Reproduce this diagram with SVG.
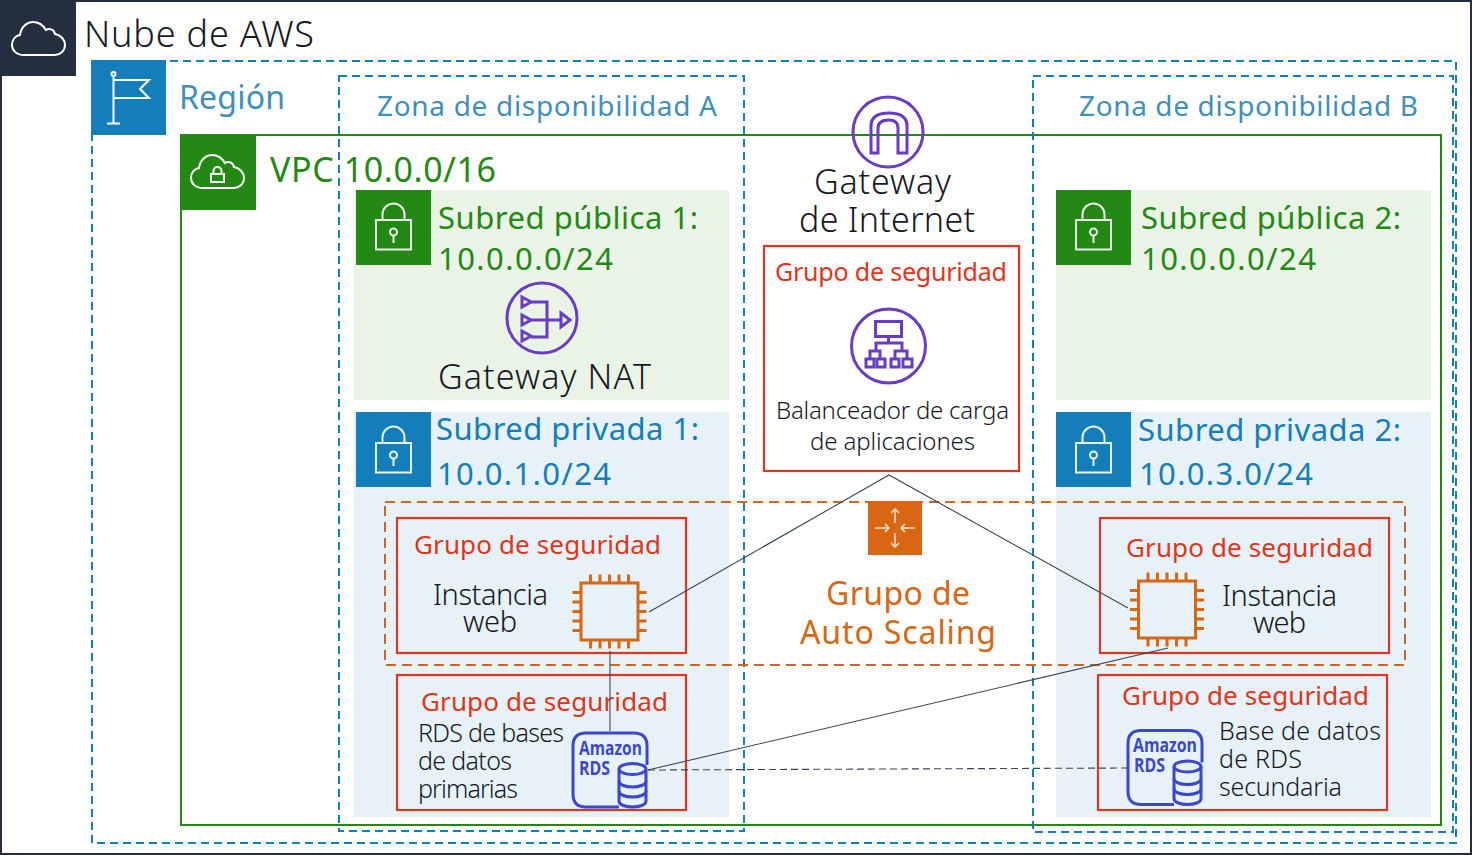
<svg xmlns="http://www.w3.org/2000/svg" xmlns:xlink="http://www.w3.org/1999/xlink" width="1472" height="855" viewBox="0 0 1472 855">
<style>
text{font-family:"Noto Sans","Open Sans","Liberation Sans",sans-serif;}
.blk{fill:#16191f;font-weight:300;}
.reg{fill:#3f8fbc;font-size:28px;}
.grn{fill:#248814;}
.blu{fill:#147eba;}
.red{fill:#e0351b;font-size:26px;}
.org{fill:#d86613;font-size:32px;}
.rdst{fill:#3b48cc;font-weight:700;font-family:"Open Sans","Liberation Sans",sans-serif;font-size:19px;}
.sg{fill:none;stroke:#dd3522;stroke-width:2.2;}
.az{fill:none;stroke:#147eba;stroke-width:2;stroke-dasharray:8 5;}
.wh{fill:none;stroke:#fff;stroke-width:2;}
.wh2{fill:none;stroke:#e8f2ea;stroke-width:2;}
.pur{fill:none;stroke:#693cc5;stroke-width:3;}
.chip{fill:none;stroke:#d86613;stroke-width:3;}
.rds{fill:none;stroke:#3b48cc;stroke-width:3;}
.conn{fill:none;stroke:#3a4656;stroke-width:1.1;}
</style>
<defs>
<g id="lock">
<rect x="20" y="30" width="35" height="29.5" class="wh2"/>
<path d="M26.500 30V24.500A11 11 0 0 1 48.500 24.500V30" class="wh2"/>
<circle cx="37.500" cy="42" r="3.500" class="wh2"/>
<path d="M37.500 45.500V53" class="wh2"/>
</g>
<path id="cloud" d="M24 55C16 55 12 50 12 45C12 40 15 36 20 35C21 27 27 22 33 22C38 22 43 25 46 30C49 28 54 29 55 34C61 35 65 40 65 45C65 51 60 55 55 55Z" class="wh"/>
<g id="chip" class="chip">
<rect x="-28.500" y="-28.500" width="57" height="57"/>
<path d="M-19-29V-37M-9.500-29V-37M0-29V-37M9.500-29V-37M19-29V-37M-19 29V37M-9.500 29V37M0 29V37M9.500 29V37M19 29V37M-29-19H-37M-29-9.500H-37M-29 0H-37M-29 9.500H-37M-29 19H-37M29-19H37M29-9.500H37M29 0H37M29 9.500H37M29 19H37"/>
</g>
<g id="rdsIcon" class="rds">
<path d="M647 765V746Q647 733 634 733H586Q573 733 573 746V794Q573 807 586 807H619"/>
<path d="M619 769V801C619 809 646 809 646 801V769"/>
<ellipse cx="632.500" cy="769" rx="13.500" ry="5.500"/>
<path d="M619 781C619 789 646 789 646 781M619 791C619 799 646 799 646 791"/>
</g>
</defs>

<rect x="1" y="1" width="1470" height="853" fill="#fff" stroke="#232f3e" stroke-width="2"/>

<g id="aws-cloud">
<rect x="0" y="0" width="76" height="76" fill="#232f3e"/>
<use xlink:href="#cloud" href="#cloud"/>
<text x="84" y="47" class="blk" font-size="36" textLength="230">Nube de AWS</text>
</g>

<g id="vpc">
<rect x="181" y="135" width="1260" height="690" fill="none" stroke="#248814" stroke-width="2"/>
<rect x="181" y="135" width="75" height="75" fill="#248814"/>
<use xlink:href="#cloud" href="#cloud" transform="translate(179 133)"/>
<rect x="211" y="174" width="13" height="8" class="wh"/>
<path d="M213.500 174V171A4 4 0 0 1 221.500 171V174" class="wh"/>
<text x="270" y="182" class="grn" font-size="34" textLength="226">VPC 10.0.0/16</text>
</g>

<g id="region">
<rect x="92" y="61" width="1364" height="782" class="az"/>
<rect x="91" y="60" width="75" height="75" fill="#147eba"/>
<circle cx="113.500" cy="74" r="2" class="wh"/>
<path d="M113.500 76V123M107 123.500H120M114 80H149L140 89L149 98H114" class="wh"/>
<text x="179" y="109" class="reg" font-size="32" style="font-size:32px" textLength="106">Región</text>
</g>

<g id="public-subnet-1">
<rect x="354" y="190" width="375" height="210" fill="#e9f3e6"/>
<rect x="356" y="190" width="75" height="75" fill="#248814"/>
<use xlink:href="#lock" href="#lock" transform="translate(356 190)"/>
<text x="438" y="229" class="grn" font-size="31" textLength="260">Subred pública 1:</text>
<text x="438" y="270" class="grn" font-size="31" textLength="175">10.0.0.0/24</text>
</g>
<g id="public-subnet-2">
<rect x="1056" y="190" width="375" height="210" fill="#e9f3e6"/>
<rect x="1056" y="190" width="75" height="75" fill="#248814"/>
<use xlink:href="#lock" href="#lock" transform="translate(1056 190)"/>
<text x="1141" y="229" class="grn" font-size="31" textLength="260">Subred pública 2:</text>
<text x="1141" y="270" class="grn" font-size="31" textLength="175">10.0.0.0/24</text>
</g>
<g id="private-subnet-1">
<rect x="354" y="412" width="375" height="405" fill="#e6f2f8"/>
<rect x="356" y="412" width="75" height="75" fill="#147eba"/>
<use xlink:href="#lock" href="#lock" transform="translate(356 413)"/>
<text x="436" y="440" class="blu" font-size="31" textLength="263">Subred privada 1:</text>
<text x="437" y="485" class="blu" font-size="31" textLength="174">10.0.1.0/24</text>
</g>
<g id="private-subnet-2">
<rect x="1056" y="412" width="375" height="405" fill="#e6f2f8"/>
<rect x="1056" y="412" width="75" height="75" fill="#147eba"/>
<use xlink:href="#lock" href="#lock" transform="translate(1056 413)"/>
<text x="1138" y="441" class="blu" font-size="31" textLength="263">Subred privada 2:</text>
<text x="1139" y="485" class="blu" font-size="31" textLength="174">10.0.3.0/24</text>
</g>

<g id="az-a">
<rect x="339" y="76" width="405" height="755" class="az"/>
<text x="377" y="116" class="reg" textLength="340">Zona de disponibilidad A</text>
</g>
<g id="az-b">
<rect x="1033" y="76" width="420" height="756" class="az"/>
<text x="1079" y="116" class="reg" textLength="339">Zona de disponibilidad B</text>
</g>

<g id="internet-gateway">
<circle cx="888" cy="132" r="35" class="pur"/>
<path d="M871 153V126Q871 113 889 113Q907 113 907 126V153H898V128Q898 120 889 120Q878 120 878 128V153Z" class="pur"/>
<text x="814" y="194" class="blk" font-size="34" textLength="137">Gateway</text>
<text x="799" y="232" class="blk" font-size="34" textLength="176">de Internet</text>
</g>

<g id="nat-gateway">
<circle cx="542" cy="318" r="35" class="pur"/>
<path d="M522 297L531 302L522 307ZM522 315L531 320L522 325ZM522 331L531 336L522 341ZM561 313L570 320L561 327Z" class="pur"/>
<path d="M531 302H547V337H531M531 320H561" class="pur"/>
<text x="438" y="389" class="blk" font-size="34" textLength="213">Gateway NAT</text>
</g>

<g id="load-balancer">
<rect x="764" y="246" width="255" height="225" class="sg"/>
<text x="775" y="281" class="red" font-size="25" style="font-size:25px" textLength="232">Grupo de seguridad</text>
<circle cx="888.500" cy="346" r="37" class="pur"/>
<rect x="875.500" y="321.500" width="26" height="15" class="pur"/>
<path d="M888.500 337V343M876 351V343H902V351M870 359V351H880V359M895 359V351H907V359" class="pur"/>
<rect x="866" y="359" width="8" height="8" class="pur"/>
<rect x="877" y="359" width="8" height="8" class="pur"/>
<rect x="891" y="359" width="8" height="8" class="pur"/>
<rect x="903" y="359" width="9" height="8" class="pur"/>
<text x="776" y="419" class="blk" font-size="24" textLength="233">Balanceador de carga</text>
<text x="810" y="450" class="blk" font-size="24" textLength="165">de aplicaciones</text>
</g>

<g id="web-a">
<rect x="397" y="518" width="289" height="135" class="sg"/>
<text x="414" y="554" class="red" textLength="247">Grupo de seguridad</text>
<use xlink:href="#chip" href="#chip" transform="translate(609.500 611.500)"/>
<text x="433" y="605" class="blk" font-size="29" textLength="115">Instancia</text>
<text x="463" y="632" class="blk" font-size="29" textLength="54">web</text>
</g>
<g id="web-b">
<rect x="1100" y="518" width="289" height="135" class="sg"/>
<text x="1126" y="557" class="red" textLength="247">Grupo de seguridad</text>
<use xlink:href="#chip" href="#chip" transform="translate(1167 609.500)"/>
<text x="1222" y="606" class="blk" font-size="29" textLength="115">Instancia</text>
<text x="1253" y="633" class="blk" font-size="29" textLength="53">web</text>
</g>
<g id="rds-a">
<rect x="397" y="675" width="289" height="135" class="sg"/>
<text x="421" y="711" class="red" textLength="247">Grupo de seguridad</text>
<text x="418" y="742" class="blk" font-size="25" textLength="146">RDS de bases</text>
<text x="418" y="770" class="blk" font-size="25" textLength="94">de datos</text>
<text x="418" y="798" class="blk" font-size="25" textLength="100">primarias</text>
<use xlink:href="#rdsIcon" href="#rdsIcon"/>
<text x="579" y="755" class="rdst" textLength="63" lengthAdjust="spacingAndGlyphs">Amazon</text>
<text x="579" y="775" class="rdst" textLength="31" lengthAdjust="spacingAndGlyphs">RDS</text>
</g>
<g id="rds-b">
<rect x="1098" y="675" width="289" height="135" class="sg"/>
<text x="1122" y="705" class="red" textLength="247">Grupo de seguridad</text>
<text x="1219" y="740" class="blk" font-size="25" textLength="162">Base de datos</text>
<text x="1219" y="768" class="blk" font-size="25" textLength="83">de RDS</text>
<text x="1219" y="796" class="blk" font-size="25" textLength="123">secundaria</text>
<use xlink:href="#rdsIcon" href="#rdsIcon" transform="translate(555 -2.500)"/>
<text x="1133" y="752" class="rdst" textLength="64" lengthAdjust="spacingAndGlyphs">Amazon</text>
<text x="1134" y="772" class="rdst" textLength="31" lengthAdjust="spacingAndGlyphs">RDS</text>
</g>

<g id="auto-scaling">
<rect x="385" y="502" width="1020" height="163" fill="none" stroke="#c7672b" stroke-width="2" stroke-dasharray="10 6"/>
<rect x="868" y="501" width="54" height="54" fill="#d86613"/>
<path d="M895 509V523M891 513L895 509L899 513M895 547V533M891 543L895 547L899 543M875 528H889M885 524L889 528L885 532M915 528H901M905 524L901 528L905 532" fill="none" stroke="#fbe9dc" stroke-width="1.400"/>
<text x="826" y="605" class="org" textLength="144">Grupo de</text>
<text x="800" y="644" class="org" textLength="196">Auto Scaling</text>
</g>

<g id="connectors">
<path d="M649 612L889 475L1128 608" class="conn"/>
<path d="M610 651V731" class="conn"/>
<path d="M1168 648L648 770" class="conn"/>
<path d="M648 770L1128 768" class="conn" stroke-dasharray="7 4"/>
</g>
</svg>
